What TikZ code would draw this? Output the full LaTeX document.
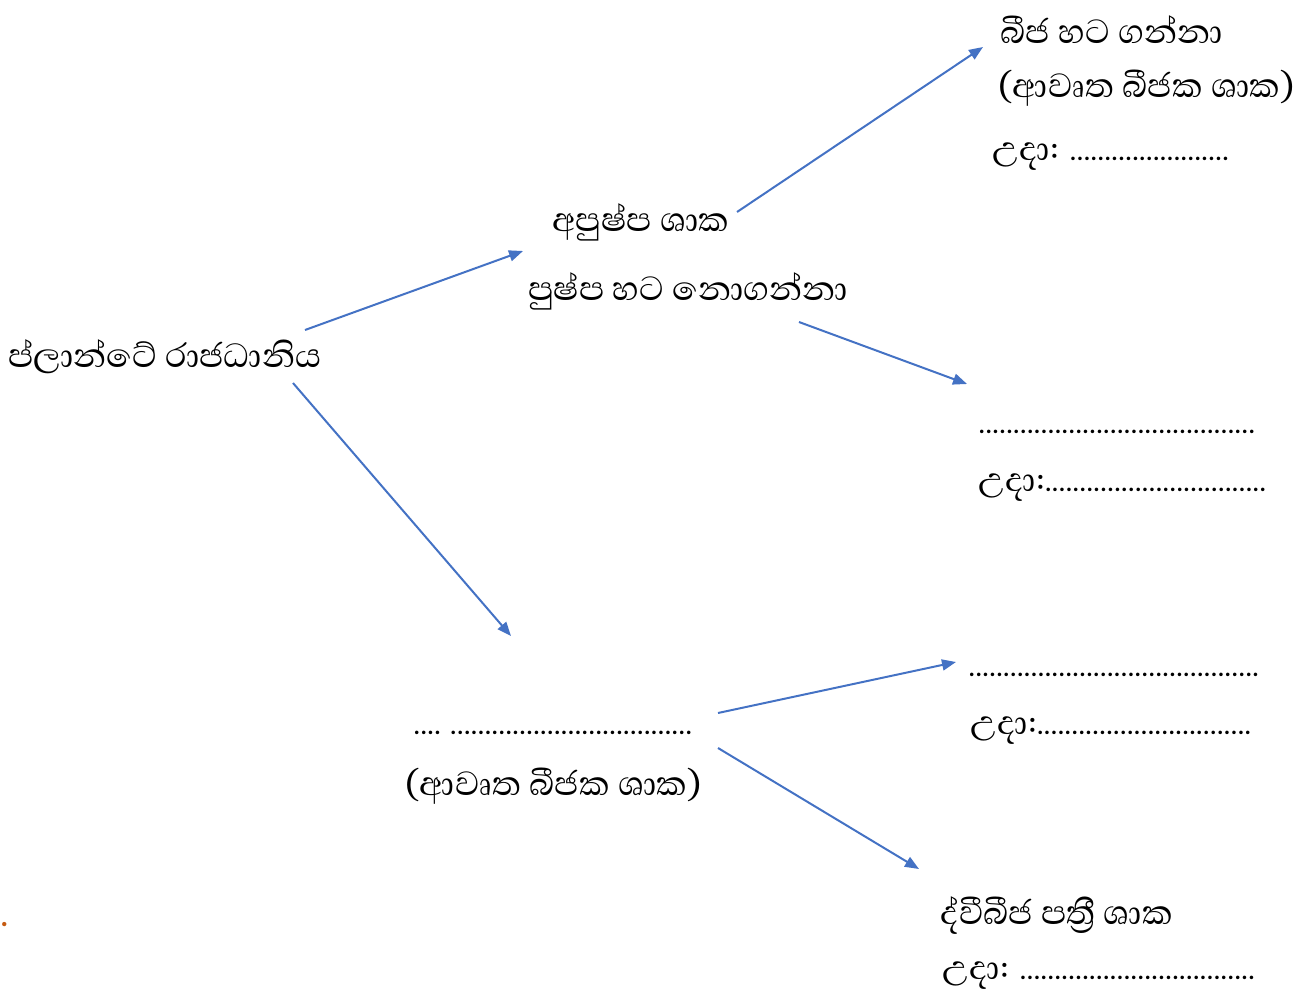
\documentclass[tikz,border=0pt]{standalone}
\usepackage{fontspec}
\setmainfont[Script=Sinhala]{Abhaya Libre}
\usetikzlibrary{arrows.meta}
\newlength{\du}
\setlength{\du}{0.02cm}
\definecolor{arrowblue}{rgb}{0.267,0.447,0.769}
\definecolor{dotorange}{rgb}{0.773,0.353,0.067}
\newcommand{\dd}[1]{{\fontsize{20}{24}\selectfont #1}}
\tikzset{
  lbl/.style={anchor=west,inner sep=0pt,font=\fontsize{24.5}{28}\selectfont},
  arr/.style={draw=arrowblue,line width=0.04cm,-{Triangle[length=0.28cm,width=0.22cm]}}
}

\begin{document}
\begin{tikzpicture}
\pgftransformxscale{1.000000}
\pgftransformyscale{-1.000000}
\useasboundingbox (0\du,0\du) rectangle (1312\du,994\du);
% kingdom
\node[lbl] (plantae) at (8\du,357\du){ප්ලාන්ටේ රාජධානිය};
% non flowering
\node[lbl] (apushpa) at (552\du,222\du){අපුෂ්ප ශාක};
\node[lbl] (nopushpa) at (528\du,291\du){පුෂ්ප හට නොගන්නා};
\node[lbl] (beeja) at (1000\du,30\du){බීජ හට ගන්නා};
\node[lbl] (avrutha1) at (998\du,88\du){(ආවෘත බීජක ශාක)};
\node[lbl] (uda1) at (992\du,157\du){උදා: \dd{.......................}};
\node[lbl] (dots2) at (978\du,432\du){\dd{........................................}};
\node[lbl] (uda2) at (978\du,488\du){උදා:\dd{................................}};
% flowering
\node[lbl] (dots3) at (413\du,733\du){\dd{.... ...................................}};
\node[lbl] (avrutha3) at (405\du,786\du){(ආවෘත බීජක ශාක)};
\node[lbl] (dots4) at (968\du,675\du){\dd{..........................................}};
\node[lbl] (uda4) at (970\du,731\du){උදා:\dd{...............................}};
\node[lbl] (dvibeeja) at (940\du,915\du){ද්වීබීජ පත්‍රී ශාක};
\node[lbl] (uda5) at (942\du,976\du){උදා: \dd{..................................}};
\node[lbl,text=dotorange] (stray) at (0\du,925\du){.};
% arrow ends
\coordinate (s1) at (305\du,330\du);
\coordinate (e1) at (523\du,251\du);
\coordinate (s2) at (293\du,383\du);
\coordinate (e2) at (511\du,636\du);
\coordinate (s3) at (737\du,212\du);
\coordinate (e3) at (983\du,47\du);
\coordinate (s4) at (799\du,322\du);
\coordinate (e4) at (967\du,384\du);
\coordinate (s5) at (718\du,713\du);
\coordinate (e5) at (956\du,662\du);
\coordinate (s6) at (718\du,748\du);
\coordinate (e6) at (919\du,869\du);
\draw[arr] (s1)--(e1);
\draw[arr] (s2)--(e2);
\draw[arr] (s3)--(e3);
\draw[arr] (s4)--(e4);
\draw[arr] (s5)--(e5);
\draw[arr] (s6)--(e6);
\end{tikzpicture}
\end{document}
